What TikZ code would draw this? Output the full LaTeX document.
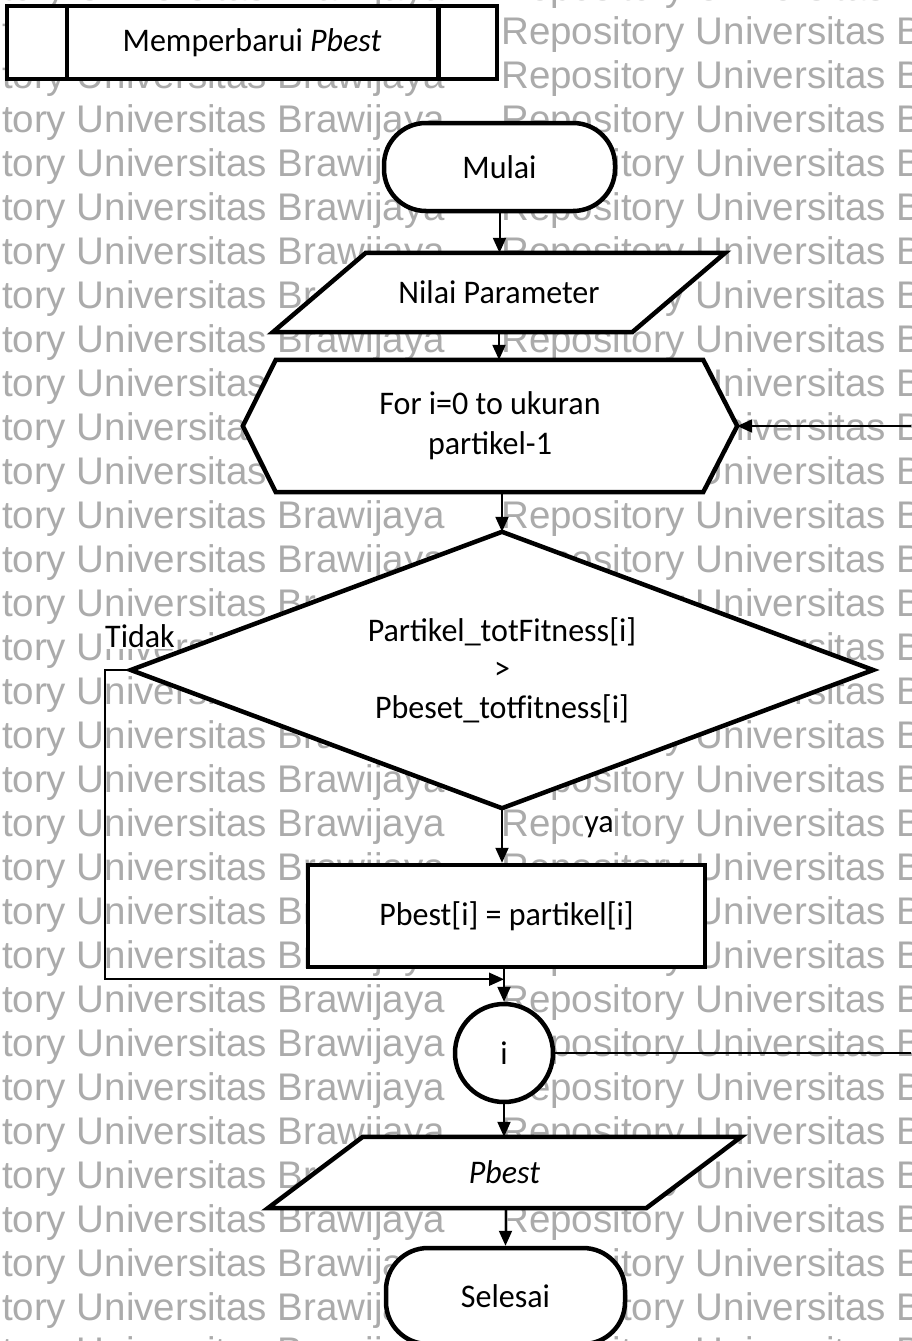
\documentclass[tikz,border=0pt]{standalone}
\usepackage{fontspec}
\setmainfont{Carlito}[FakeStretch=0.97]
\newfontfamily\wmfont{Liberation Sans}
\usetikzlibrary{arrows.meta,calc}

\begin{document}
\begin{tikzpicture}[x=1pt,y=-1pt,
  txt/.style={font=\fontsize{33}{40}\selectfont, align=center, inner sep=0pt},
  outline/.style={line width=4.5pt, line join=miter, draw=black, fill=white},
  conn/.style={line width=2pt, -{Triangle[length=15pt,width=13pt]}},
  plain/.style={line width=2pt},
  wm/.style={font=\wmfont\fontsize{38.5}{38.5}\selectfont, text=black!33, inner sep=0pt, anchor=base west},
  lbl/.style={font=\fontsize{33}{40}\selectfont, fill=white, inner sep=1pt}]

\path[use as bounding box] (0,0) rectangle (911,1341);
\clip (0,0) rectangle (911,1341);
\fill[white] (0,0) rectangle (911,1341);

% repository watermark rows
\foreach \k in {0,...,31}{
  \foreach \j in {0,1}{
    \node[wm] (wm-\k-\j) at ({-118+619*\j},{44*\k}) {Repository Universitas Brawijaya};
  }
}

% title bar with double side lines
\node[outline, minimum width=490pt, minimum height=73pt, txt] (title) at (252,42.5) {Memperbarui \textit{Pbest}};
\draw[line width=4.5pt] ($(title.north west)+(62,0)$) -- ($(title.south west)+(62,0)$);
\draw[line width=4.5pt] ($(title.north east)+(-61,0)$) -- ($(title.south east)+(-61,0)$);

% start terminal
\node[outline, rounded corners=42pt, minimum width=231pt, minimum height=88pt, txt] (mulai) at (499.5,167) {Mulai};

% input parallelogram
\node[minimum width=452pt, minimum height=79pt, inner sep=0pt] (nilai) at (499,292.5) {};
\draw[outline] ($(nilai.north west)+(93,0)$) -- (nilai.north east) -- ($(nilai.south east)+(-93,0)$) -- (nilai.south west) -- cycle;
\node[txt] (nilai-t) at (nilai.center) {Nilai Parameter};

% loop hexagon
\node[minimum width=494pt, minimum height=132pt, inner sep=0pt] (hex) at (490,426) {};
\draw[outline] ($(hex.north west)+(33,0)$) -- ($(hex.north east)+(-34,0)$) -- (hex.east) -- ($(hex.south east)+(-34,0)$) -- ($(hex.south west)+(33,0)$) -- (hex.west) -- cycle;
\node[txt] (hex-t) at (hex.center) {For i=0 to ukuran\\partikel-1};

% decision diamond
\node[minimum width=742pt, minimum height=276pt, inner sep=0pt] (dia) at (502,670) {};
\draw[outline] (dia.north) -- (dia.east) -- (dia.south) -- (dia.west) -- cycle;
\node[txt, font=\fontsize{33}{38.5}\selectfont] (dia-t) at (dia.center) {Partikel\_totFitness[i]\\>\\Pbeset\_totfitness[i]};

% process box
\node[outline, minimum width=397pt, minimum height=102pt, txt] (proc) at (506.5,916) {Pbest[i] = partikel[i]};

% loop connector circle
\node[outline, circle, minimum size=98pt, txt] (loop) at (504,1053) {i};

% output parallelogram
\node[minimum width=473pt, minimum height=71pt, inner sep=0pt] (pbest) at (504.5,1172.5) {};
\draw[outline] ($(pbest.north west)+(95,0)$) -- (pbest.north east) -- ($(pbest.south east)+(-95,0)$) -- (pbest.south west) -- cycle;
\node[txt] (pbest-t) at (pbest.center) {\textit{Pbest}};

% end terminal
\node[outline, rounded corners=42pt, minimum width=239pt, minimum height=96pt, txt] (selesai) at (505.5,1296) {Selesai};

% connectors
\coordinate (merge) at ($(proc.south -| loop.north)+(0,10)$);
\draw[conn] (mulai.south) -- (mulai.south |- nilai.north);
\draw[conn] (nilai.south) -- (nilai.south |- hex.north);
\draw[conn] (dia.north |- hex.south) -- (dia.north);
\draw[conn] (dia.south) -- (dia.south |- proc.north);
\draw[plain] (proc.south -| loop.north) -- (merge);
\draw[conn] (merge) -- (loop.north);
\draw[conn] (dia.west) -- ++(-26,0) |- (merge);
\draw[conn] (loop.east) -- ++(420,0) |- (hex.east);
\draw[conn] (loop.south) -- (loop.south |- pbest.north);
\draw[conn] (pbest.south -| selesai.north) -- (selesai.north);

% branch labels
\node[lbl] (tidak) at (140,636) {Tidak};
\node[lbl] (ya) at (599,827) {ya};

\end{tikzpicture}
\end{document}
